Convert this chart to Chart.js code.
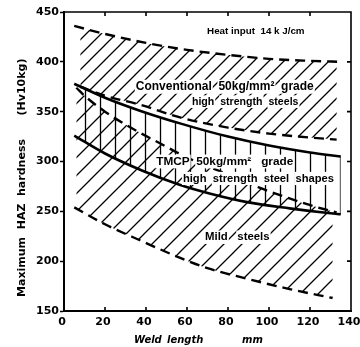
<!DOCTYPE html>
<html>
<head>
<meta charset="utf-8">
<script src="https://cdn.jsdelivr.net/npm/chart.js@4.4.1/dist/chart.umd.min.js"></script>
<style>
  html, body { margin: 0; padding: 0; background: #fff; }
  #wrap { width: 360px; height: 347px; }
</style>
</head>
<body>
<div id="wrap"><canvas id="chart"></canvas></div>
<script>
// weld length (mm) vs max HAZ hardness (Hv10kg)
const convUpperX = [5, 20, 40, 60, 80, 100, 120, 135];
const convUpperY = [436, 428, 419, 412, 407, 403, 401, 400];
const convLowerX = [8, 20, 37, 57, 80, 100, 120, 133];
const convLowerY = [375, 366, 357, 344, 334, 328, 324, 322];
const tmcpUpperX = [5, 20, 37, 57, 80, 100, 120, 135];
const tmcpUpperY = [378, 364, 351, 338, 325, 316, 309, 305];
const tmcpLowerX = [5, 20, 38, 56, 71, 90, 110, 130, 135];
const tmcpLowerY = [326, 308, 291, 277, 268, 259, 253, 248, 247];
const mildUpperX = [6, 10, 20, 30, 47, 60, 80, 95, 110, 122, 133];
const mildUpperY = [374, 366, 350, 337, 318, 304, 287, 274, 263, 255, 249];
const mildLowerX = [5, 20, 37, 57, 70, 90, 110, 131];
const mildLowerY = [254, 237, 221, 203, 193, 182, 172, 163];

const xTicks = [0, 20, 40, 60, 80, 100, 120, 140];
const yTicks = [150, 200, 250, 300, 350, 400, 450];

// labels inside the plot (x in mm, y in Hv)
const notes = [
  { text: 'Heat input  14 k J/cm', x: 69.8, y: 431, size: 9.8 },
  { text: 'Conventional  50kg/mm\u00B2  grade', x: 35, y: 375, size: 12 },
  { text: 'high  strength  steels', x: 62.4, y: 360, size: 10.6 },
  { text: 'TMCP  50kg/mm\u00B2   grade', x: 45, y: 300, size: 11.8 },
  { text: 'high  strength  steel  shapes', x: 58, y: 283, size: 11.2 },
  { text: 'Mild   steels', x: 68.8, y: 224, size: 11.4 }
];

const pts = (xs, ys) => xs.map((v, i) => ({ x: v, y: ys[i] }));

function hatch(step, vertical, offset) {
  const c = document.createElement('canvas');
  c.width = step; c.height = step;
  const g = c.getContext('2d');
  g.strokeStyle = '#000';
  g.lineWidth = 1.3;
  g.beginPath();
  if (vertical) {
    g.moveTo(offset + 0.5, 0); g.lineTo(offset + 0.5, step);
  } else {
    [0, step, 2 * step].forEach(k => { g.moveTo(-1, k + 1); g.lineTo(step + 1, k - step - 1); });
  }
  g.stroke();
  return g.createPattern(c, 'repeat');
}

const dash = [10, 6];
const line = (data, dashed, fillTo, bg) => ({
  data,
  borderColor: '#000',
  borderWidth: dashed ? 2.4 : 2.6,
  borderDash: dashed ? dash : [],
  pointRadius: 0,
  tension: 0.4,
  cubicInterpolationMode: 'monotone',
  fill: fillTo === undefined ? false : { target: fillTo },
  backgroundColor: bg || 'transparent'
});

const notesPlugin = {
  id: 'notes',
  afterDatasetsDraw(chart) {
    const { ctx, scales: { x, y } } = chart;
    ctx.save();
    ctx.textBaseline = 'middle';
    notes.forEach(n => {
      ctx.font = 'bold ' + n.size + 'px "Liberation Sans", Arial, sans-serif';
      let px = x.getPixelForValue(n.x);
      const py = y.getPixelForValue(n.y);
      n.text.split(/(\s+)/).forEach(w => {
        const wd = ctx.measureText(w).width;
        if (w.trim()) {
          ctx.fillStyle = '#fff';
          ctx.fillRect(px - 1, py - n.size / 2 - 1, wd + 2, n.size + 2);
          ctx.fillStyle = '#000';
          ctx.fillText(w, px, py);
        }
        px += wd;
      });
    });

    // axis titles
    ctx.font = 'bold 11px "DejaVu Sans", sans-serif';
    ctx.textAlign = 'center';
    ctx.save();
    ctx.translate(22, 218);
    ctx.rotate(-Math.PI / 2);
    ctx.fillText('Maximum  HAZ  hardness', 0, 0);
    ctx.restore();
    ctx.save();
    ctx.translate(22, 87);
    ctx.rotate(-Math.PI / 2);
    ctx.fillText('(Hv10kg)', 0, 0);
    ctx.restore();
    ctx.font = 'italic bold 10px "DejaVu Sans", sans-serif';
    ctx.textAlign = 'left';
    ctx.fillText('Weld', 134, 340);
    ctx.fillText('length', 167, 340);
    ctx.fillText('mm', 242, 340);
    ctx.restore();
  }
};

const framePlugin = {
  id: 'frame',
  afterDraw(chart) {
    const { ctx, chartArea: a, scales: { x, y } } = chart;
    ctx.save();
    ctx.strokeStyle = '#000';
    ctx.lineWidth = 1.6;
    ctx.beginPath();
    ctx.moveTo(a.left, a.top); ctx.lineTo(a.right, a.top); ctx.lineTo(a.right, a.bottom);
    xTicks.slice(1, -1).forEach(v => {
      const p = x.getPixelForValue(v);
      ctx.moveTo(p, a.bottom); ctx.lineTo(p, a.bottom - 4);
      ctx.moveTo(p, a.top); ctx.lineTo(p, a.top + 4);
    });
    yTicks.slice(1, -1).forEach(v => {
      const p = y.getPixelForValue(v);
      ctx.moveTo(a.right, p); ctx.lineTo(a.right - 4, p);
    });
    ctx.stroke();
    ctx.restore();
  }
};

const tickFont = { family: '"DejaVu Sans", sans-serif', size: 11, weight: 'bold' };

new Chart(document.getElementById('chart'), {
  type: 'line',
  data: {
    datasets: [
      line(pts(convUpperX, convUpperY), true, 1, hatch(15, false)),
      line(pts(convLowerX, convLowerY), true),
      line(pts(tmcpUpperX, tmcpUpperY), false, 3, hatch(15, true, 10)),
      line(pts(tmcpLowerX, tmcpLowerY), false),
      line(pts(mildUpperX, mildUpperY), true, 5, hatch(18, false)),
      line(pts(mildLowerX, mildLowerY), true)
    ]
  },
  options: {
    responsive: true,
    maintainAspectRatio: false,
    animation: false,
    layout: { padding: { top: 12, right: 9, left: 0, bottom: 0 } },
    plugins: { legend: { display: false }, tooltip: { enabled: false } },
    scales: {
      x: {
        type: 'linear', min: 0, max: 140,
        afterBuildTicks: s => { s.ticks = xTicks.map(v => ({ value: v })); },
        afterFit: s => { s.height = 36; s.paddingLeft = 0; s.paddingRight = 0; },
        ticks: { color: '#000', font: tickFont, padding: 5, maxRotation: 0, labelOffset: -2 },
        grid: { drawOnChartArea: false, drawTicks: false },
        border: { color: '#000', width: 2 }
      },
      y: {
        type: 'linear', min: 150, max: 450,
        afterBuildTicks: s => { s.ticks = yTicks.map(v => ({ value: v })); },
        afterFit: s => { s.width = 64; s.paddingTop = 0; s.paddingBottom = 0; },
        ticks: { color: '#000', font: tickFont, padding: 1 },
        grid: { drawOnChartArea: false, tickLength: 4, tickColor: '#000', tickWidth: 1.5 },
        border: { color: '#000', width: 2 }
      }
    }
  },
  plugins: [notesPlugin, framePlugin]
});
</script>
</body>
</html>
